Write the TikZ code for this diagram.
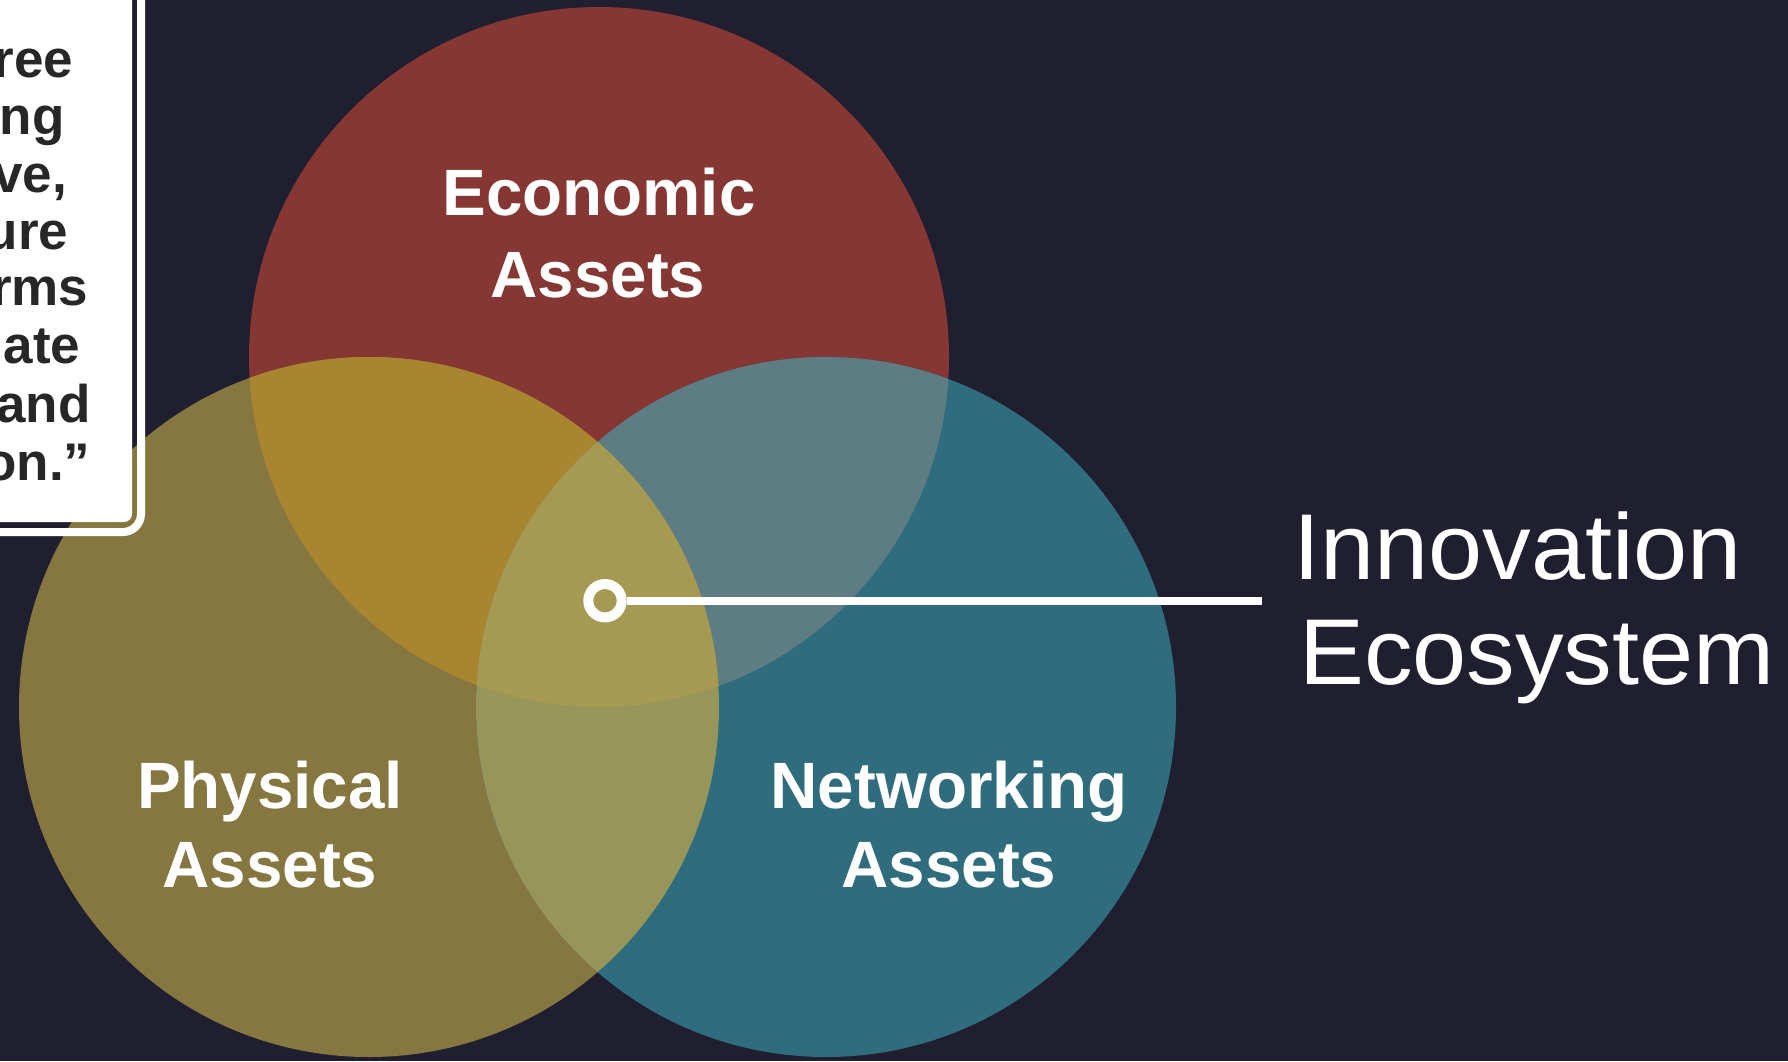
\documentclass[tikz,border=0pt]{standalone}
\usepackage{fontspec}
\setmainfont{Liberation Sans}
\newfontfamily\widefont[FakeStretch=1.04]{Liberation Sans}
\definecolor{bgc}{HTML}{201F30}
\definecolor{redc}{HTML}{863633}
\definecolor{yelc}{HTML}{867741}
\definecolor{tealc}{HTML}{2E6C7E}
\definecolor{ryc}{HTML}{AA8530}
\definecolor{rtc}{HTML}{5E7D83}
\definecolor{ytc}{HTML}{96955A}
\definecolor{rytc}{HTML}{A69A52}
\definecolor{qtc}{HTML}{272727}
\begin{document}
\begin{tikzpicture}[x=1pt,y=-1pt,
  lbl/.style={text=white, font=\fontsize{65.5}{65.5}\selectfont\bfseries, inner sep=0pt, anchor=base},
  ttl/.style={text=white, font=\widefont\fontsize{93.5}{93.5}\selectfont, inner sep=0pt, anchor=base west},
  qt/.style={text=qtc, font=\fontsize{53}{53}\selectfont\bfseries, inner sep=0pt, anchor=base east},
  ring/.style={circle, draw=white, line width=10pt, minimum size=33.4pt, inner sep=0pt},
  conn/.style={white, line width=8pt}]
\useasboundingbox (0,0) rectangle (1788,1061);
\clip (0,0) rectangle (1788,1061);
\fill[bgc] (0,0) rectangle (1788,1061);
% circles
\fill[redc] (599,357) circle[radius=350pt];
\fill[yelc] (369,707) circle[radius=350pt];
\fill[tealc] (826,707) circle[radius=350pt];
\begin{scope}
  \clip (599,357) circle[radius=350pt];
  \fill[ryc] (369,707) circle[radius=350pt];
  \fill[rtc] (826,707) circle[radius=350pt];
\end{scope}
\begin{scope}
  \clip (369,707) circle[radius=350pt];
  \fill[ytc] (826,707) circle[radius=350pt];
  \clip (599,357) circle[radius=350pt];
  \fill[rytc] (826,707) circle[radius=350pt];
\end{scope}
% labels
\node[lbl] (econ1) at (599,215) {Economic};
\node[lbl] (econ2) at (598,297) {Assets};
\node[lbl] (phys1) at (270,808) {Physical};
\node[lbl] (phys2) at (270,887) {Assets};
\node[lbl] (netw1) at (949,808) {Networking};
\node[lbl] (netw2) at (949,887) {Assets};
% hub and connector
\node[ring] (hub) at (605,600.7) {};
\coordinate (lineend) at (1262,600.7);
\draw[conn] (hub.east) -- (lineend);
\node[ttl] (inno) at (1293,579) {Innovation};
\node[ttl] (ecosys) at (1299,684) {Ecosystem};
% quote box
\fill[white, rounded corners=8pt] (-30,-30) rectangle (132,522);
\draw[white, line width=8pt, rounded corners=18pt] (-30,-30) rectangle (141,532);
\node[qt] (q1) at (73.6,77) {ree};
\node[qt] (q2) at (64.6,134.6) {ng};
\node[qt] (q3) at (67,192.2) {ve,};
\node[qt] (q4) at (68.6,249.8) {ure};
\node[qt] (q5) at (88.5,305) {rms};
\node[qt] (q6) at (80.5,363) {ate};
\node[qt] (q7) at (90.7,422.6) {and};
\node[qt] (q8) at (90.6,480.2) {on.”};
\end{tikzpicture}
\end{document}
